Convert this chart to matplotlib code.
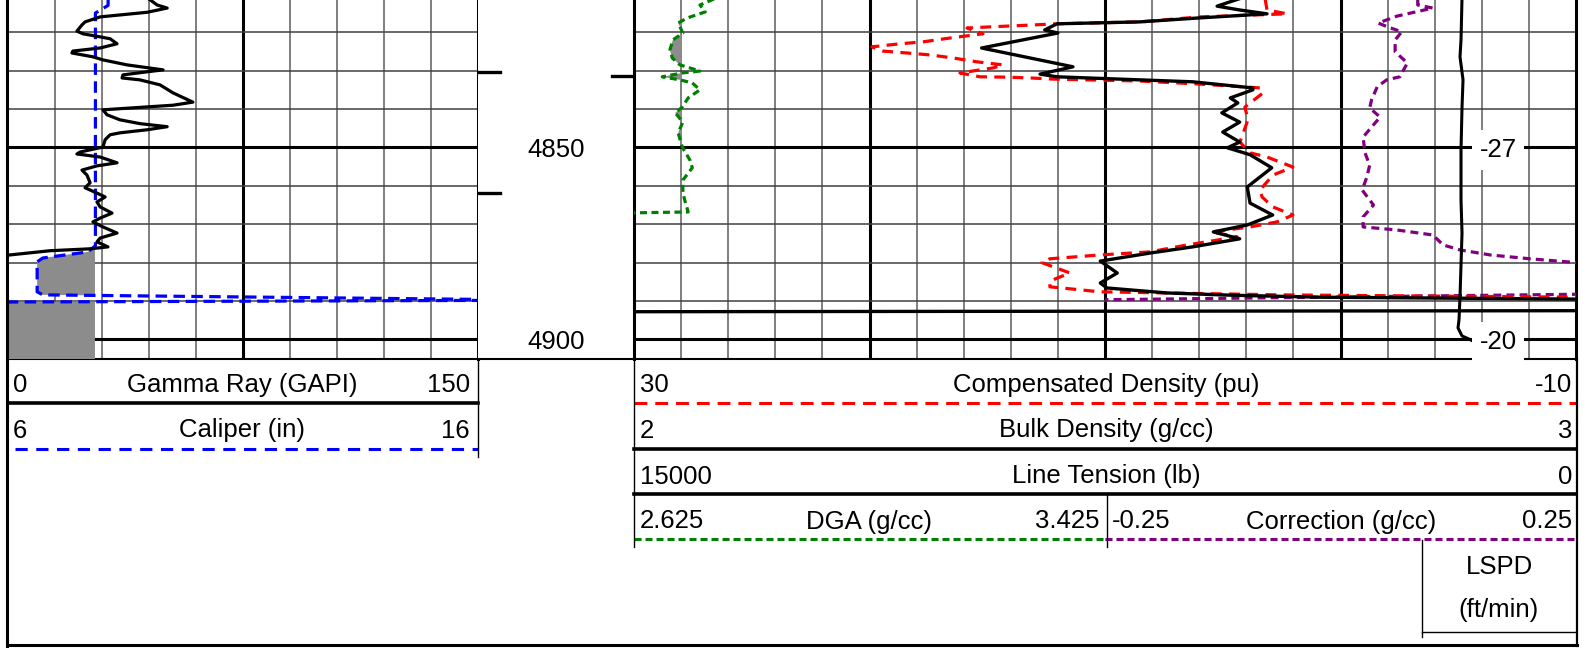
import matplotlib.pyplot as plt
import matplotlib.transforms as mtransforms
from matplotlib.lines import Line2D
import numpy as np

plt.rcParams['font.family'] = ['Liberation Sans', 'DejaVu Sans']

# depth window shown (ft)
depth_top, depth_bot = 4811.6, 4905.1
grid_depths = list(range(4820, 4901, 10))
depth_labels = [4850, 4900]
marks_left = [4830.3, 4861.8]
marks_right = [4831.4]

# gamma ray (GAPI)
gr_depth = [4811.0, 4812.9, 4813.7, 4814.8, 4816.0, 4817.3, 4818.1, 4819.7, 4820.4, 4821.2,
            4821.7, 4823.0, 4824.1, 4824.9, 4825.4, 4826.4, 4827.2, 4828.5, 4829.8, 4830.3,
            4831.1, 4831.9, 4832.4, 4833.7, 4835.8, 4838.2, 4839.0, 4840.2, 4841.5, 4842.8,
            4843.8, 4844.6, 4845.4, 4846.2, 4846.7, 4847.5, 4848.0, 4849.9, 4851.2, 4851.7,
            4852.5, 4854.0, 4854.8, 4855.9, 4857.2, 4859.2, 4860.5, 4861.9, 4862.9, 4864.2,
            4865.5, 4867.1, 4868.4, 4869.4, 4870.7, 4872.3, 4873.6, 4874.6, 4875.9, 4876.4,
            4876.9, 4878.0, 4878.4, 4906.0]
gr_val = [44.4, 47.6, 50.8, 44.4, 29.4, 24.6, 23.6, 22.0, 23.9, 29.4,
          32.6, 34.8, 29.4, 20.7, 20.4, 27.1, 30.3, 38.0, 49.5, 44.4,
          36.7, 36.4, 42.1, 48.5, 52.7, 59.0, 52.7, 30.3, 31.6, 35.7,
          42.1, 50.8, 44.4, 35.7, 32.6, 31.6, 31.0, 30.3, 23.0, 22.0,
          29.4, 34.8, 28.4, 23.6, 25.2, 26.2, 24.6, 28.4, 31.0, 28.4,
          29.4, 33.2, 29.4, 27.1, 30.3, 34.8, 29.4, 28.4, 31.9, 26.2,
          13.4, 0.6, -5.0, -5.0]

# caliper (in) and bit size
cal_depth = [4811.0, 4813.0, 4815.0, 4875.6, 4877.2, 4878.8, 4879.8, 4887.6, 4888.4,
             4889.7, 4889.8, 4890.3, 4906.0]
cal_val = [8.13, 8.13, 7.86, 7.86, 7.70, 6.74, 6.62, 6.62, 6.74, 17.0, 17.0, 5.0, 5.0]
bit_size = 7.85

# compensated density (pu)
rhoz_depth = [4811.0, 4814.2, 4815.2, 4816.0, 4817.3, 4817.8, 4818.1, 4818.6, 4818.9, 4820.4,
              4821.5, 4822.5, 4823.0, 4823.8, 4824.9, 4825.4, 4825.9, 4826.7, 4827.7, 4828.5,
              4829.3, 4830.6, 4831.6, 4831.7, 4831.9, 4832.2, 4832.7, 4833.5, 4834.5, 4835.8,
              4839.5, 4842.8, 4848.6, 4851.4, 4852.5, 4855.1, 4857.2, 4861.1, 4862.9, 4865.5,
              4867.6, 4869.4, 4870.7, 4872.0, 4873.3, 4875.4, 4877.2, 4878.0, 4879.0, 4880.0,
              4882.7, 4884.8, 4886.3, 4887.6, 4887.9, 4888.4, 4889.0, 4889.2, 4906.0]
rhoz_val = [3.21, 3.12, 2.27, 5.97, 8.51, 12.04, 13.06, 14.88, 15.86, 15.18,
            16.58, 17.73, 18.70, 19.89, 19.43, 18.41, 17.43, 16.45, 15.44, 14.33,
            14.76, 16.16, 15.31, 14.16, 13.18, 12.21, 8.51, 5.97, 3.42, 3.29,
            4.06, 3.93, 4.27, 3.84, 3.12, 2.02, 2.87, 3.42, 3.33, 2.87,
            2.02, 2.70, 3.84, 5.46, 4.39, 6.52, 8.09, 10.21, 12.34, 12.68,
            11.49, 12.34, 12.34, 10.21, 7.37, 2.57, -10.0, -13.0, -13.0]

# bulk density (g/cc)
rhob_depth = [4811.0, 4813.2, 4814.2, 4815.2, 4816.3, 4817.3, 4817.8, 4819.4, 4820.2, 4824.1,
              4829.0, 4830.9, 4831.6, 4832.4, 4832.9, 4834.5, 4835.0, 4837.1, 4838.4, 4841.0,
              4843.4, 4846.0, 4848.6, 4850.1, 4851.9, 4855.3, 4860.3, 4864.5, 4867.6, 4870.2,
              4872.0, 4873.8, 4875.9, 4877.5, 4879.6, 4882.7, 4885.3, 4886.6, 4887.9, 4888.5,
              4889.0, 4889.5, 4889.7, 4892.5, 4892.8, 4906.0]
rhob_val = [2.646, 2.619, 2.643, 2.672, 2.598, 2.537, 2.449, 2.436, 2.450, 2.369,
            2.466, 2.431, 2.449, 2.537, 2.593, 2.657, 2.657, 2.633, 2.641, 2.624,
            2.643, 2.625, 2.643, 2.630, 2.654, 2.677, 2.651, 2.654, 2.678, 2.651,
            2.615, 2.643, 2.593, 2.548, 2.495, 2.513, 2.495, 2.502, 2.566, 2.636,
            2.728, 3.000, 3.08, 3.08, 1.95, 1.95]

# DGA (g/cc) and its shading cutoff
dga_depth = [4811.0, 4812.9, 4814.7, 4816.3, 4817.6, 4820.2, 4822.0, 4824.6, 4826.7, 4828.5,
             4830.1, 4830.6, 4831.6, 4832.4, 4833.2, 4835.0, 4837.1, 4839.5, 4841.0, 4843.4,
             4846.2, 4849.9, 4853.3, 4855.3, 4858.5, 4861.8, 4864.2, 4866.8, 4867.1, 4906.0]
dga_val = [2.766, 2.737, 2.746, 2.715, 2.700, 2.708, 2.691, 2.686, 2.690, 2.703,
           2.737, 2.707, 2.673, 2.703, 2.724, 2.737, 2.717, 2.707, 2.695, 2.708,
           2.700, 2.707, 2.720, 2.724, 2.708, 2.708, 2.712, 2.717, 2.600, 2.600]
dga_cut = 2.706

# density correction (g/cc)
corr_depth = [4811.0, 4812.9, 4813.7, 4815.8, 4817.6, 4818.6, 4819.9, 4822.0, 4825.1, 4828.0,
              4831.6, 4832.4, 4834.2, 4837.6, 4839.7, 4842.1, 4844.7, 4847.3, 4851.4, 4854.6,
              4857.7, 4861.1, 4865.0, 4868.1, 4870.7, 4871.5, 4872.8, 4875.4, 4876.7, 4878.0,
              4879.0, 4880.0, 4880.2, 4888.1, 4889.8, 4906.0]
corr_val = [0.082, 0.082, 0.098, 0.060, 0.040, 0.050, 0.065, 0.058, 0.058, 0.071,
            0.063, 0.049, 0.039, 0.033, 0.031, 0.042, 0.033, 0.024, 0.026, 0.031,
            0.028, 0.023, 0.035, 0.024, 0.024, 0.060, 0.098, 0.109, 0.127, 0.159,
            0.201, 0.251, 0.30, 0.30, -0.30, -0.30]

# line tension (lb)
ten_depth = [4811.0, 4822.0, 4826.4, 4832.4, 4839.5, 4850.7, 4863.7, 4872.3, 4888.9, 4894.9,
             4897.0, 4899.1, 4899.9, 4902.7, 4904.8, 4906.0]
ten_val = [1815, 1831, 1847, 1799, 1815, 1831, 1831, 1815, 1847, 1863,
           1879, 1815, 1704, 1369, 1258, 1200]

# line speed annotations (ft/min)
lspd_depth = [4850, 4900]
lspd_val = [-27, -20]

W, H = 1592, 648
FS = 18.5
fig = plt.figure(figsize=(W / 100, H / 100), dpi=100)


def rect(x0, x1, y0=0, y1=359):
    return [x0 / W, 1 - y1 / H, (x1 - x0) / W, (y1 - y0) / H]


def hline(y, x0, x1, **kw):
    fig.add_artist(Line2D([x0 / W, x1 / W], [1 - y / H, 1 - y / H], transform=fig.transFigure, **kw))


def vline(x, y0, y1, **kw):
    fig.add_artist(Line2D([x / W, x / W], [1 - y0 / H, 1 - y1 / H], transform=fig.transFigure, **kw))


def label(x, y, s, ha='center'):
    fig.text(x / W, 1 - y / H, s, ha=ha, va='baseline', fontsize=FS)


#tracks
ax_l = fig.add_axes(rect(8, 478), label='gr')
ax_d = fig.add_axes(rect(478, 634), sharey=ax_l, label='depth')
ax_r = fig.add_axes(rect(634, 1576), sharey=ax_l, label='dens')
ax_l.set_ylim(depth_bot, depth_top)
ax_l.set_xlim(0, 150)
ax_r.set_xlim(2, 3)

for ax in (ax_l, ax_d, ax_r):
    ax.set_xticks([])
    ax.tick_params(left=False, labelleft=False)
    ax.spines['top'].set_visible(False)
    ax.spines['bottom'].set_linewidth(1.5)
ax_l.spines['left'].set_visible(False)
ax_l.spines['right'].set_linewidth(2.2)
ax_d.spines['left'].set_visible(False)
ax_d.spines['right'].set_visible(False)
ax_r.spines['left'].set_linewidth(2.2)
ax_r.spines['right'].set_linewidth(2.2)

#grid
for ax, x0, step in ((ax_l, 0, 15), (ax_r, 2, 0.05)):
    for i in range(1, 20 if ax is ax_r else 10):
        major = i % 5 == 0
        ax.axvline(x0 + i * step, color='k' if major else '#6a6a6a', lw=2.2 if major else 1.2, zorder=0)
    for d in grid_depths:
        major = d % 50 == 0
        ax.axhline(d, color='k' if major else '#404040', lw=2.2 if major else 1.1, zorder=0)


def overlay(x0, x1, xlim, name):
    a = fig.add_axes(rect(x0, x1), sharey=ax_l, label=name)
    a.set_xlim(*xlim)
    a.axis('off')
    return a


#left track curves
ax_cal = overlay(8, 478, (6, 16), 'cal')
cd, cv = np.array(cal_depth), np.array(cal_val)
ax_cal.fill_betweenx(cd, cv, bit_size, where=cv < bit_size, interpolate=True, color='#8c8c8c', lw=0)
ax_cal.plot(cal_val, cal_depth, color='#0000ff', lw=2.3, dashes=(3.6, 2.0))
ax_gr = overlay(8, 478, (0, 150), 'grc')
ax_gr.plot(gr_val, gr_depth, color='k', lw=2.3)

#depth track
bt = mtransforms.blended_transform_factory(ax_d.transAxes, ax_d.transData)
for d in depth_labels:
    ax_d.text(0.5, d, str(d), transform=bt, ha='center', va='center_baseline', fontsize=FS)
for d in marks_left:
    ax_d.plot([0, 0.14], [d, d], transform=bt, color='k', lw=2.4)
for d in marks_right:
    ax_d.plot([0.86, 1.0], [d, d], transform=bt, color='k', lw=2.4)

#right track curves
ax_dga = overlay(634, 1105, (2.625, 3.425), 'dga')
dd, dv = np.array(dga_depth), np.array(dga_val)
ax_dga.fill_betweenx(dd, dv, dga_cut, where=(dv < dga_cut) & (dv > 2.62), interpolate=True,
                     color='#8c8c8c', lw=0)
ax_dga.plot(dga_val, dga_depth, color='#008000', lw=2.3, dashes=(2.2, 1.4))

ax_cor = overlay(1105, 1576, (-0.25, 0.25), 'cor')
ax_cor.plot(corr_val, corr_depth, color='#800080', lw=2.3, dashes=(2.5, 1.6))

ax_rz = overlay(634, 1576, (30, -10), 'rhoz')
ax_rz.plot(rhoz_val, rhoz_depth, color='#ff0000', lw=2.3, dashes=(3.4, 2.3))

ax_rb = overlay(634, 1576, (2, 3), 'rhob')
ax_rb.plot(rhob_val, rhob_depth, color='k', lw=2.4)

ax_ten = overlay(634, 1576, (15000, 0), 'ten')
ax_ten.plot(ten_val, ten_depth, color='k', lw=2.2)
bt2 = mtransforms.blended_transform_factory(ax_ten.transAxes, ax_ten.transData)
for d, v in zip(lspd_depth, lspd_val):
    ax_ten.text((1498 - 634) / 942, d, str(v), transform=bt2, ha='center', va='center_baseline',
                fontsize=FS, bbox=dict(boxstyle='square,pad=0.3', fc='white', ec='none'))

#header - left
label(13, 392, "0", 'left')
label(242, 392, "Gamma Ray (GAPI)")
label(470, 392, "150", 'right')
hline(403, 8, 478, color='k', lw=2.6)
label(13, 437.5, "6", 'left')
label(242, 437.5, "Caliper (in)")
label(470, 437.5, "16", 'right')
hline(449, 15, 478, color='#0000ff', lw=2.2, dashes=(4, 2.8))
vline(478, 359, 457, color='k', lw=1.0)

#header - right
label(640, 392, "30", 'left')
label(1106, 392, "Compensated Density (pu)")
label(1572, 392, "-10", 'right')
hline(403, 634, 1576, color='#ff0000', lw=2.2, dashes=(4.2, 2.6))
label(640, 437.5, "2", 'left')
label(1106, 437.5, "Bulk Density (g/cc)")
label(1572, 437.5, "3", 'right')
hline(449, 634, 1576, color='k', lw=2.6)
label(640, 483.5, "15000", 'left')
label(1106, 483.5, "Line Tension (lb)")
label(1572, 483.5, "0", 'right')
hline(494, 634, 1576, color='k', lw=2.6)
label(640, 528.5, "2.625", 'left')
label(869, 528.5, "DGA (g/cc)")
label(1099, 528.5, "3.425", 'right')
label(1112, 528.5, "-0.25", 'left')
label(1341, 528.5, "Correction (g/cc)")
label(1572, 528.5, "0.25", 'right')
hline(539, 634, 1105, color='#008000', lw=2.2, dashes=(2.3, 1.3))
hline(539, 1105, 1576, color='#800080', lw=2.2, dashes=(2.3, 1.3))
vline(634, 359, 547, color='k', lw=1.0)
vline(1107, 495, 547, color='k', lw=1.0)

#lspd box
label(1499, 574, "LSPD")
label(1499, 617, "(ft/min)")
vline(1422, 540, 637, color='k', lw=1.0)
hline(632, 1422, 1576, color='k', lw=1.0)

#outer frame
vline(7.5, 0, 646, color='k', lw=2.2)
hline(645, 7, 1577, color='k', lw=2.2)
vline(1576.5, 359, 646, color='k', lw=1.6)

fig.savefig('out.png', dpi=100)
